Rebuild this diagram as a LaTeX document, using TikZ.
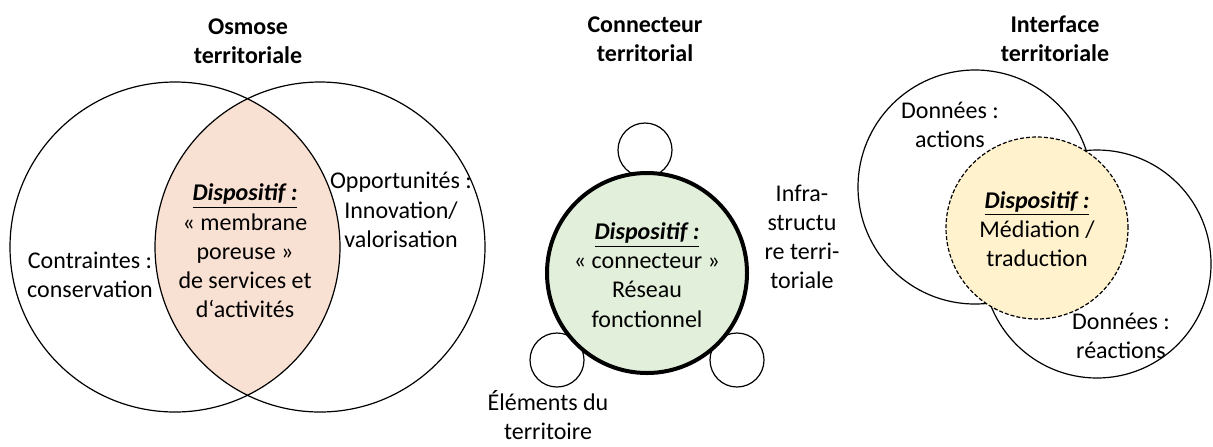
\documentclass[tikz,border=0pt]{standalone}
\usepackage{fontspec}
\setmainfont{Carlito}
\usepackage{tikz}
\usetikzlibrary{positioning}
\definecolor{peach}{HTML}{F8E0D2}
\definecolor{mint}{HTML}{E2EFDA}
\definecolor{cream}{HTML}{FFF2CC}

\begin{document}
\begin{tikzpicture}[
  x=0.5pt, y=-0.5pt,
  lbl/.style={font=\fontsize{12}{14.6}\selectfont,align=center,inner sep=0pt},
  ttl/.style={lbl,font=\fontsize{12}{14.6}\selectfont\bfseries},
  ring/.style={circle,draw,line width=0.6pt,inner sep=0pt},
  hub/.style={circle,draw,line width=2pt,inner sep=0pt,fill=mint},
  halo/.style={circle,draw,dash pattern=on 2pt off 1pt,line width=0.6pt,inner sep=0pt,fill=cream}
  ]
\useasboundingbox (0,0) rectangle (1213,446);
\newcommand{\dispo}{\underline{\textbf{\textit{Dispositif :}}}}

% osmose
\coordinate (cL) at (175,247);
\coordinate (cR) at (320,247);
\begin{scope}
  \clip (cL) circle[radius=165];
  \fill[peach] (cR) circle[radius=165];
\end{scope}
\node[ring,minimum size=165pt] (osL) at (cL) {};
\node[ring,minimum size=165pt] (osR) at (cR) {};
\node[ttl] (osT) at (248,41) {Osmose\\territoriale};
\node[lbl] (osA) at (90,275) {Contraintes :\\conservation};
\node[lbl] (osB) at (401,210) {Opportunités :\\Innovation/\\valorisation};
\node[lbl] (osC) at (245,251) {\dispo\\« membrane\\poreuse »\\de services et\\d‘activités};

% connecteur
\node[ttl] (coT) at (645,39) {Connecteur\\territorial};
\node[ring,minimum size=27pt] (coA) at (645,150) {};
\node[ring,minimum size=27pt] (coB) at (557,360) {};
\node[ring,minimum size=27pt] (coC) at (737,360) {};
\node[hub,minimum size=100pt] (coH) at (647,273) {};
\node[lbl] at (coH) [yshift=-1pt] {\dispo\\« connecteur »\\Réseau\\fonctionnel};
\node[lbl] (coE) at (548,415) {Éléments du\\territoire};
\node[lbl] (coI) at (802,237) {Infra-\\structu\\re terri-\\toriale};

% interface
\node[ttl] (inT) at (1055,39) {Interface\\territoriale};
\node[ring,minimum size=117pt] (inA) at (975,187) {};
\node[ring,minimum size=114pt] (inB) at (1097,264) {};
\node[halo,minimum size=91pt] (inH) at (1037,228) {};
\node[lbl] at (inH) [yshift=-0.5pt] {\dispo\\Médiation /\\traduction};
\node[lbl] (inD) at (950,125) {Données :\\actions};
\node[lbl] (inR) at (1121,336) {Données :\\réactions};

\end{tikzpicture}
\end{document}
